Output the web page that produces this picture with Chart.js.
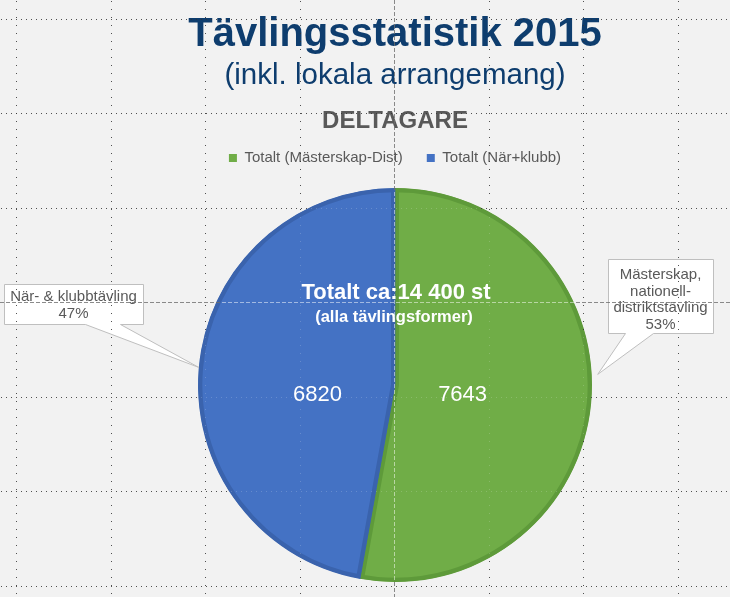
<!DOCTYPE html>
<html><head><meta charset="utf-8">
<script src="https://cdn.jsdelivr.net/npm/chart.js@4/dist/chart.umd.min.js"></script>
<style>html,body{margin:0;padding:0;background:#f2f2f2;overflow:hidden;}</style>
</head><body>
<canvas id="c" width="730" height="597"></canvas>
<script>
// ---- data ----
const categories = ['Totalt (Mästerskap-Dist)', 'Totalt (När+klubb)'];
const values = [7643, 6820];
const fillColors = ['#70AD47', '#4472C4'];
const edgeColors = ['#5E9A3A', '#3A63AD'];
const calloutNames = [['Mästerskap,', 'nationell-', 'distriktstävling'], ['När- & klubbtävling']];
const titleText = 'Tävlingsstatistik 2015';
const subtitleText = '(inkl. lokala arrangemang)';
const chartTitle = 'DELTAGARE';
const totalLines = ['Totalt ca:14 400 st', '(alla tävlingsformer)'];

const SANS = '"Liberation Sans", Arial, sans-serif';
const total = values.reduce((a, b) => a + b, 0);

// callout layout (box x,y,w,h ; pointer base xs ; tip angle in deg ; extra radius)
const calloutLayout = [
  {box: [608, 259, 105, 74], base: [625, 653], tipDeg: -3, extra: 6, lh: 16.5, y0: 275},
  {box: [4, 284, 139, 40], base: [85, 120], tipDeg: null, extra: 0, lh: 16.5, y0: 297}
];

const deco = {
  id: 'deco',
  beforeDraw(chart) {
    const ctx = chart.ctx;
    ctx.save();
    ctx.fillStyle = '#f2f2f2';
    ctx.fillRect(0, 0, chart.width, chart.height);
    ctx.restore();
  },
  afterDatasetsDraw(chart) {
    const ctx = chart.ctx;
    const arcs = chart.getDatasetMeta(0).data;
    const cx = arcs[0].x, cy = arcs[0].y, R = arcs[0].outerRadius;
    ctx.save();
    ctx.fillStyle = '#ffffff';
    ctx.textAlign = 'center';
    ctx.textBaseline = 'middle';
    ctx.font = '22px ' + SANS;
    arcs.forEach((a, i) => {
      const mid = (a.startAngle + a.endAngle) / 2;
      ctx.fillText(String(values[i]), cx + Math.cos(mid) * R * 0.37 - 5, cy + 10);
    });
    ctx.font = 'bold 22px ' + SANS;
    ctx.fillText(totalLines[0], cx + 1, cy - 92);
    ctx.font = 'bold 16.5px ' + SANS;
    ctx.fillText(totalLines[1], cx - 1, cy - 68);

    // callouts
    arcs.forEach((a, i) => {
      const L = calloutLayout[i];
      const ang = L.tipDeg === null ? (a.startAngle + a.endAngle) / 2 : L.tipDeg * Math.PI / 180;
      const tx = cx + Math.cos(ang) * (R + L.extra);
      const ty = cy + Math.sin(ang) * (R + L.extra);
      const [bx, by, bw, bh] = L.box;
      const x0 = bx + 0.5, y0 = by + 0.5, x1 = bx + bw + 0.5, y1 = by + bh + 0.5;
      ctx.beginPath();
      ctx.moveTo(x0, y0);
      ctx.lineTo(x1, y0);
      ctx.lineTo(x1, y1);
      ctx.lineTo(L.base[1] + 0.5, y1);
      ctx.lineTo(tx, ty);
      ctx.lineTo(L.base[0] + 0.5, y1);
      ctx.lineTo(x0, y1);
      ctx.closePath();
      ctx.fillStyle = '#ffffff';
      ctx.fill();
      ctx.strokeStyle = '#bfbfbf';
      ctx.lineWidth = 1;
      ctx.stroke();
      const pct = Math.round(values[i] / total * 100) + '%';
      const lines = calloutNames[i].concat([pct]);
      ctx.fillStyle = '#595959';
      ctx.font = '15px ' + SANS;
      lines.forEach((t, k) => ctx.fillText(t, bx + bw / 2, L.y0 + k * L.lh));
    });
    ctx.restore();
  },
  afterDraw(chart) {
    const ctx = chart.ctx;
    const a0 = chart.getDatasetMeta(0).data[0];
    const cx = a0.x, cy = a0.y, R = a0.outerRadius;
    const inside = (x, y) => (x - cx) * (x - cx) + (y - cy) * (y - cy) < (R - 1) * (R - 1);
    ctx.save();
    const gx0 = 394, gy0 = 302, step = 94.5;
    // dotted grid
    for (let k = -5; k <= 5; k++) {
      if (k === 0) continue;
      const x = Math.round(gx0 + k * step);
      if (x >= 0 && x < 730) {
        for (let y = 1; y < 597; y += 8) {
          ctx.fillStyle = inside(x, y) ? 'rgba(255,255,255,0.18)' : 'rgba(50,50,50,0.85)';
          ctx.fillRect(x, y, 1, 1);
        }
      }
      const y = Math.round(gy0 + k * step);
      if (y >= 0 && y < 597) {
        for (let x2 = 1; x2 < 730; x2 += 5) {
          ctx.fillStyle = inside(x2, y) ? 'rgba(255,255,255,0.18)' : 'rgba(50,50,50,0.85)';
          ctx.fillRect(x2, y, 1, 1);
        }
      }
    }
    // center guides (dashed)
    for (let y = 0; y < 597; y += 6) {
      ctx.fillStyle = inside(gx0, y) ? 'rgba(255,255,255,0.5)' : 'rgba(110,110,110,0.8)';
      ctx.fillRect(gx0, y, 1, 4);
    }
    for (let x = 0; x < 730; x += 6) {
      ctx.fillStyle = inside(x, gy0) ? 'rgba(255,255,255,0.5)' : 'rgba(110,110,110,0.8)';
      ctx.fillRect(x, gy0, 4, 1);
    }
    ctx.restore();
  }
};

new Chart(document.getElementById('c'), {
  type: 'pie',
  data: {
    labels: categories,
    datasets: [{
      data: values,
      backgroundColor: fillColors,
      borderColor: edgeColors,
      borderWidth: 4,
      borderAlign: 'inner',
      radius: 197
    }]
  },
  options: {
    responsive: false,
    animation: false,
    devicePixelRatio: 1,
    layout: {padding: {left: 60, right: 0, top: 0, bottom: 2.5}},
    plugins: {
      tooltip: {enabled: false},
      title: {
        display: true, text: titleText, color: '#0E3D6E',
        font: {family: SANS, size: 40, weight: 'bold', lineHeight: 1},
        padding: {top: 14.5, bottom: 0}
      },
      subtitle: {
        display: true, text: subtitleText, color: '#0E3D6E',
        font: {family: SANS, size: 29.5, weight: 'normal', lineHeight: 1},
        padding: {top: 6.25, bottom: 0}
      },
      legend: {
        display: true, position: 'top', align: 'center',
        title: {
          display: true, text: chartTitle, color: '#595959', position: 'center',
          font: {family: SANS, size: 24, weight: 'bold', lineHeight: 0.7},
          padding: {top: 18.75, bottom: 0.7}
        },
        labels: {
          boxWidth: 8, boxHeight: 8, padding: 24, color: '#595959',
          font: {family: SANS, size: 15},
          generateLabels: (chart) => Chart.overrides.pie.plugins.legend.labels.generateLabels(chart)
            .map(l => Object.assign(l, {lineWidth: 0, strokeStyle: 'rgba(0,0,0,0)'}))
        }
      }
    }
  },
  plugins: [deco]
});
</script>
</body></html>
